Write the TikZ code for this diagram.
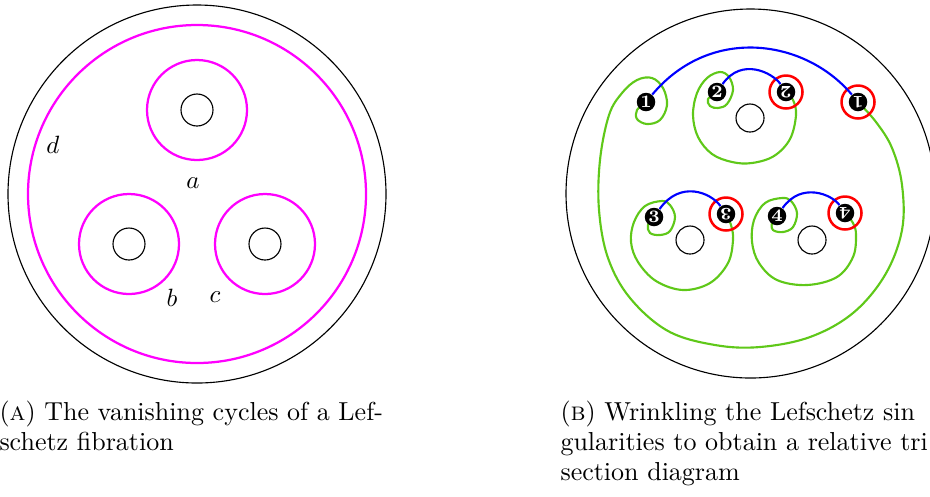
\documentclass[tikz,border=0pt]{standalone}
\definecolor{lgreen}{RGB}{95,200,25}
\definecolor{vmag}{RGB}{255,0,255}
\tikzset{
  outer/.style={draw=black, line width=0.45pt},
  holec/.style={draw=black, line width=0.45pt},
  vcyc/.style={draw=vmag, line width=0.9pt},
  grn/.style={draw=lgreen, line width=0.85pt},
  blu/.style={draw=blue, line width=0.85pt},
  redring/.style={circle, draw=red, line width=1pt, minimum size=13.2pt, inner sep=0pt},
  numdot/.style={circle, fill=black, minimum size=7.4pt, inner sep=0pt, text=white, font=\scriptsize\bfseries},
  lab/.style={inner sep=0pt, font=\fontsize{10.4pt}{12.5pt}\selectfont},
  capt/.style={anchor=base west, inner sep=0pt, font=\fontsize{10.4pt}{12.5pt}\selectfont}
}
\begin{document}
\begin{tikzpicture}[x=0.4pt,y=0.4pt]
\useasboundingbox (0,-496) rectangle (930,0);
% ---------- left panel ----------
\draw[outer] (197,-194) circle[radius=189];
\draw[vcyc] (197,-194) circle[radius=169];
\foreach \p in {(197,-110),(129,-244),(265,-244)}{
  \draw[vcyc] \p circle[radius=50];
  \draw[holec] \p circle[radius=16];
}
\node[lab] (la) at (193,-183) {$a$};
\node[lab] (lb) at (172,-298) {$b$};
\node[lab] (lc) at (215,-297) {$c$};
\node[lab] (ld) at (53,-145) {$d$};
% ---------- right panel ----------
\draw[outer] (750.5,-193.5) circle[radius=184.5];
\foreach \p in {(750,-118),(690,-240),(812,-240)}{
  \draw[holec] \p circle[radius=14];
}
\coordinate (c1) at (646,-102);
\coordinate (c1p) at (858,-102);
\coordinate (c2) at (717,-92);
\coordinate (c2p) at (786,-92);
\coordinate (c3) at (654,-217);
\coordinate (c3p) at (726,-214);
\coordinate (c4) at (777,-216);
\coordinate (c4p) at (845,-213);
% green curves
\draw[grn] plot[smooth, tension=0.6] coordinates {(646,-102) (637,-110) (637,-119) (647,-124) (660,-120) (667,-105) (663,-88) (652,-78) (637,-80) (622,-93) (609,-115) (600,-160) (599,-210) (608,-258) (630,-298) (668,-331) (715,-345) (760,-347) (810,-337) (853,-313) (885,-275) (902,-230) (902,-185) (892,-148) (876,-122) (858,-102)};
\draw[grn] plot[smooth, tension=0.6] coordinates {(717,-92) (708,-99) (710,-106) (718,-108) (727,-104) (733,-90) (729,-77) (720,-72) (707,-78) (697,-93) (693,-115) (698,-137) (712,-154) (732,-162) (752,-163) (774,-156) (790,-139) (796,-115) (793,-100) (786,-92)};
\draw[grn] plot[smooth, tension=0.6] coordinates {(654,-217) (648,-225) (650,-233) (660,-235) (670,-231) (675,-217) (670,-205) (662,-201) (645,-206) (634,-222) (631,-242) (638,-262) (656,-281) (683,-290) (710,-283) (728,-263) (733,-240) (731,-225) (726,-214)};
\draw[grn] plot[smooth, tension=0.6] coordinates {(777,-216) (772,-222) (773,-230) (783,-232) (793,-227) (797,-213) (791,-201) (782,-198) (765,-203) (754,-220) (752,-242) (759,-263) (777,-280) (807,-285) (837,-277) (853,-257) (856,-235) (853,-223) (845,-213)};
% red rings
\node[redring] (r1) at (c1p) {};
\node[redring] (r2) at (c2p) {};
\node[redring] (r3) at (c3p) {};
\node[redring] (r4) at (c4p) {};
% numbered dots
\node[numdot] (p1) at (c1) {1};
\node[numdot] (p2) at (c2) {2};
\node[numdot] (p3) at (c3) {3};
\node[numdot] (p4) at (c4) {4};
\node[numdot, rotate=180] (q1) at (c1p) {1};
\node[numdot, rotate=180] (q2) at (c2p) {2};
\node[numdot, rotate=180] (q3) at (c3p) {3};
\node[numdot, rotate=180] (q4) at (c4p) {4};
% blue arcs
\draw[blu] (p1) to[out=50, in=130, looseness=1.1] (q1);
\draw[blu] (p2) to[out=55, in=125, looseness=1.2] (q2);
\draw[blu] (p3) to[out=55, in=125, looseness=1.25] (q3);
\draw[blu] (p4) to[out=55, in=125, looseness=1.2] (q4);
% ---------- captions ----------
\node[capt] (ca1) at (-1,-420) {(\textsc{a}) The vanishing cycles of a Lef-};
\node[capt] (ca2) at (-1,-450) {schetz fibration};
\node[capt] (cb1) at (560,-420) {(\textsc{b}) Wrinkling the Lefschetz sin};
\node[capt] (cb2) at (560,-450) {gularities to obtain a relative tri};
\node[capt] (cb3) at (560,-480) {section diagram};
\end{tikzpicture}
\end{document}
